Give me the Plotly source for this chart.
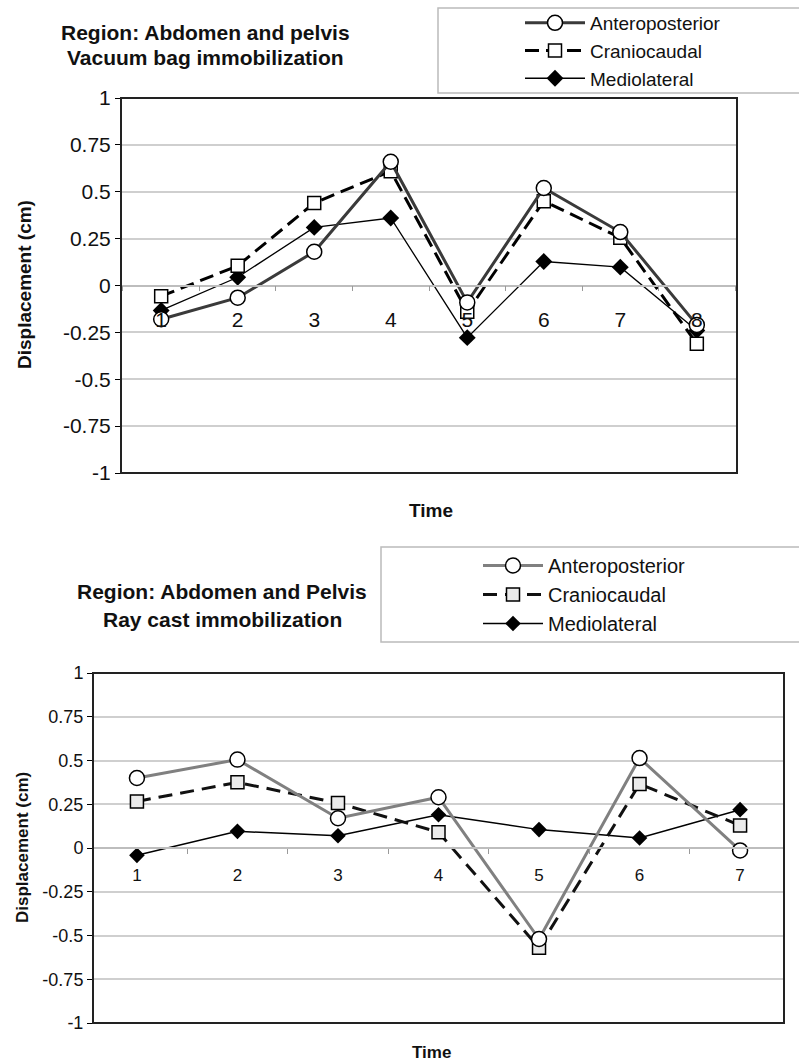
import plotly.graph_objects as go

# ---- data ----
top_categories = ["1", "2", "3", "4", "5", "6", "7", "8"]
top_antero = [-0.18, -0.065, 0.18, 0.66, -0.09, 0.52, 0.285, -0.21]
top_cranio = [-0.057, 0.105, 0.44, 0.61, -0.14, 0.45, 0.255, -0.31]
top_medio = [-0.133, 0.044, 0.31, 0.36, -0.278, 0.128, 0.098, -0.24]

bot_categories = ["1", "2", "3", "4", "5", "6", "7"]
bot_antero = [0.40, 0.505, 0.17, 0.29, -0.52, 0.514, -0.014]
bot_cranio = [0.266, 0.375, 0.257, 0.09, -0.57, 0.366, 0.129]
bot_medio = [-0.042, 0.095, 0.07, 0.19, 0.105, 0.057, 0.219]

y_ticks = [1, 0.75, 0.5, 0.25, 0, -0.25, -0.5, -0.75, -1]
y_ticktext = ["1", "0.75", "0.5", "0.25", "0", "-0.25", "-0.5", "-0.75", "-1"]
series_names = ["Anteroposterior", "Craniocaudal", "Mediolateral"]

FONT = "Liberation Sans, Arial, sans-serif"
W, H = 799, 1064

def px_x(v):
    return v / W

def px_y(v):
    return 1 - v / H

# plot boxes (pixels)
top_box = (121, 98, 737, 473)
bot_box = (93, 673, 784, 1023)

fig = go.Figure()

# top chart traces (drawn medio first so antero is on top)
fig.add_trace(go.Scatter(x=top_categories, y=top_medio, name=series_names[2], mode="lines+markers",
                         line=dict(color="black", width=1.3),
                         marker=dict(symbol="diamond", size=13, color="black"),
                         xaxis="x", yaxis="y", legend="legend"))
fig.add_trace(go.Scatter(x=top_categories, y=top_cranio, name=series_names[1], mode="lines+markers",
                         line=dict(color="black", width=3, dash="14px,7px"),
                         marker=dict(symbol="square", size=13, color="white", line=dict(color="black", width=1.5)),
                         xaxis="x", yaxis="y", legend="legend"))
fig.add_trace(go.Scatter(x=top_categories, y=top_antero, name=series_names[0], mode="lines+markers",
                         line=dict(color="#3a3a3a", width=3),
                         marker=dict(symbol="circle", size=15, color="white", line=dict(color="black", width=1.5)),
                         xaxis="x", yaxis="y", legend="legend"))

# bottom chart traces
fig.add_trace(go.Scatter(x=bot_categories, y=bot_medio, name=series_names[2], mode="lines+markers",
                         line=dict(color="black", width=1.5),
                         marker=dict(symbol="diamond", size=12, color="black"),
                         xaxis="x2", yaxis="y2", legend="legend2"))
fig.add_trace(go.Scatter(x=bot_categories, y=bot_cranio, name=series_names[1], mode="lines+markers",
                         line=dict(color="#111111", width=3, dash="14px,8px"),
                         marker=dict(symbol="square", size=13, color="#ebebeb", line=dict(color="black", width=1.5)),
                         xaxis="x2", yaxis="y2", legend="legend2"))
fig.add_trace(go.Scatter(x=bot_categories, y=bot_antero, name=series_names[0], mode="lines+markers",
                         line=dict(color="#808080", width=3),
                         marker=dict(symbol="circle", size=15, color="white", line=dict(color="black", width=1.5)),
                         xaxis="x2", yaxis="y2", legend="legend2"))

top_dom_x = [px_x(top_box[0]), px_x(top_box[2])]
top_dom_y = [px_y(top_box[3]), px_y(top_box[1])]
bot_dom_x = [px_x(bot_box[0]), px_x(bot_box[2])]
bot_dom_y = [px_y(bot_box[3]), px_y(bot_box[1])]

grid = "#cfcfcf"

def yaxis(dom, size, anchor):
    return dict(domain=dom, range=[-1, 1], tickvals=y_ticks, ticktext=y_ticktext, anchor=anchor,
                showgrid=True, gridcolor=grid, gridwidth=1.5, zeroline=False, automargin=False,
                ticks="outside", ticklen=5, tickcolor="black", showline=False,
                tickfont=dict(family=FONT, size=size, color="#111"), fixedrange=True)

def xaxis(dom, pos, size, standoff):
    return dict(domain=dom, type="category", anchor="free", position=pos, automargin=False,
                showgrid=False, zeroline=False, showline=True, linecolor="#bdbdbd", linewidth=1.5,
                ticks="outside", ticklen=5, tickcolor="#9a9a9a", tickson="boundaries",
                ticklabelstandoff=standoff,
                tickfont=dict(family=FONT, size=size, color="#111"), fixedrange=True)

fig.update_layout(
    template="none",
    width=W, height=H,
    margin=dict(l=0, r=0, t=0, b=0, pad=0),
    paper_bgcolor="white", plot_bgcolor="white",
    font=dict(family=FONT, color="black"),
    yaxis=yaxis(top_dom_y, 21, "x"),
    yaxis2=yaxis(bot_dom_y, 18, "x2"),
    xaxis=xaxis(top_dom_x, (top_dom_y[0] + top_dom_y[1]) / 2, 21, 16),
    xaxis2=xaxis(bot_dom_x, (bot_dom_y[0] + bot_dom_y[1]) / 2, 17, 12),
    legend=dict(x=px_x(520), y=px_y(4), xanchor="left", yanchor="top",
                font=dict(family=FONT, size=19, color="#111"), traceorder="reversed",
                bgcolor="rgba(0,0,0,0)", borderwidth=0, itemwidth=60, tracegroupgap=0),
    legend2=dict(x=px_x(478), y=px_y(546), xanchor="left", yanchor="top",
                 font=dict(family=FONT, size=20, color="#111"), traceorder="reversed",
                 bgcolor="rgba(0,0,0,0)", borderwidth=0, itemwidth=60, tracegroupgap=0),
    showlegend=True,
)

# plot frames and legend boxes
fig.add_shape(type="rect", xref="paper", yref="paper",
              x0=top_dom_x[0], x1=top_dom_x[1], y0=top_dom_y[0], y1=top_dom_y[1],
              line=dict(color="#222", width=2))
fig.add_shape(type="rect", xref="paper", yref="paper",
              x0=bot_dom_x[0], x1=bot_dom_x[1], y0=bot_dom_y[0], y1=bot_dom_y[1],
              line=dict(color="#222", width=2))
fig.add_shape(type="rect", xref="paper", yref="paper",
              x0=px_x(438), x1=px_x(810), y0=px_y(93), y1=px_y(8),
              line=dict(color="#bbbbbb", width=1.5))
fig.add_shape(type="rect", xref="paper", yref="paper",
              x0=px_x(381), x1=px_x(810), y0=px_y(642), y1=px_y(547),
              line=dict(color="#bbbbbb", width=1.5))

# titles and axis titles
ann = [
    dict(text="<b>Region: Abdomen and pelvis</b>", x=px_x(205), y=px_y(32), font=dict(size=21)),
    dict(text="<b>Vacuum bag immobilization</b>", x=px_x(205), y=px_y(57), font=dict(size=21)),
    dict(text="<b>Region: Abdomen and Pelvis</b>", x=px_x(222), y=px_y(591), font=dict(size=21)),
    dict(text="<b>Ray cast immobilization</b>", x=px_x(222), y=px_y(619), font=dict(size=21)),
    dict(text="<b>Time</b>", x=px_x(431), y=px_y(510), font=dict(size=19)),
    dict(text="<b>Time</b>", x=px_x(431), y=px_y(1052), font=dict(size=17)),
    dict(text="<b>Displacement (cm)</b>", x=px_x(25), y=px_y(285), textangle=-90, font=dict(size=19)),
    dict(text="<b>Displacement (cm)</b>", x=px_x(22), y=px_y(848), textangle=-90, font=dict(size=17)),
]
for a in ann:
    a.update(xref="paper", yref="paper", showarrow=False, xanchor="center", yanchor="middle")
    a["font"].update(family=FONT, color="#111")
    fig.add_annotation(**a)

fig.write_html("out.html",
               config={"displayModeBar": False},
               post_script="document.body.style.margin='0';document.body.style.overflow='hidden';")
